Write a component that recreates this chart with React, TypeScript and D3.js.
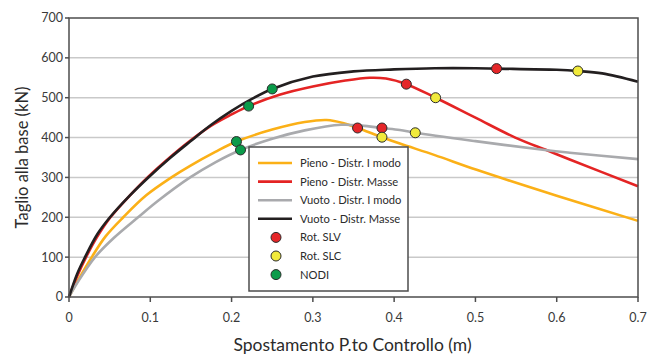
import React from "react";
import * as d3 from "d3";

// displacement (m) / base shear (kN)
const pienoModo = [
  [0, 0], [0.01, 38], [0.028, 100], [0.045, 152], [0.0668, 200], [0.095, 255],
  [0.126, 300], [0.149, 329], [0.18, 364], [0.206, 390], [0.25, 420], [0.29, 439],
  [0.317, 444], [0.338, 436], [0.355, 424], [0.385, 401], [0.407, 385], [0.45, 356],
  [0.5015, 319], [0.6, 254], [0.7, 191],
];
const pienoMasse = [
  [0, 0], [0.01, 52], [0.021, 100], [0.035, 152], [0.051, 200], [0.075, 255],
  [0.0976, 302], [0.125, 352], [0.149, 392], [0.175, 430], [0.2, 458], [0.221, 479],
  [0.26, 508], [0.3, 528], [0.34, 543], [0.37, 550], [0.39, 548], [0.415, 534],
  [0.451, 500], [0.5, 450], [0.549, 400], [0.588, 368], [0.616, 345], [0.7, 278],
];
const vuotoModo = [
  [0, 0], [0.01, 35], [0.032, 100], [0.055, 148], [0.085, 200], [0.11, 242],
  [0.149, 300], [0.18, 338], [0.211, 369], [0.25, 397], [0.29, 418], [0.335, 432],
  [0.36, 430], [0.385, 424], [0.407, 419], [0.426, 412], [0.5, 391], [0.588, 368],
  [0.616, 362], [0.7, 346],
];
const vuotoMasse = [
  [0, 0], [0.01, 58], [0.0197, 100], [0.035, 158], [0.0504, 200], [0.075, 255],
  [0.0976, 300], [0.125, 350], [0.149, 390], [0.175, 432], [0.2, 467], [0.225, 497],
  [0.25, 522], [0.3, 553], [0.35, 566], [0.4, 571], [0.45, 574], [0.5, 574],
  [0.526, 573], [0.6, 570], [0.626, 567], [0.656, 561], [0.7, 540],
];

const rotSLV = [[0.355, 424], [0.415, 534], [0.385, 424], [0.526, 573]];
const rotSLC = [[0.385, 401], [0.451, 500], [0.426, 412], [0.626, 567]];
const nodi = [[0.206, 390], [0.221, 479], [0.211, 369], [0.25, 522]];

const xTicks = [0, 0.1, 0.2, 0.3, 0.4, 0.5, 0.6, 0.7];
const yTicks = [0, 100, 200, 300, 400, 500, 600, 700];

const series = [
  { name: "Pieno - Distr. I modo", data: pienoModo, color: "#fbb017" },
  { name: "Pieno - Distr. Masse", data: pienoMasse, color: "#e42424" },
  { name: "Vuoto . Distr. I modo", data: vuotoModo, color: "#a9aaad" },
  { name: "Vuoto - Distr. Masse", data: vuotoMasse, color: "#231f20" },
];
const markers = [
  { name: "Rot. SLV", data: rotSLV, color: "#e52629" },
  { name: "Rot. SLC", data: rotSLC, color: "#f1ea3b" },
  { name: "NODI", data: nodi, color: "#0b9b4a" },
];

const font = "Lato, 'Noto Sans', sans-serif";

export default function App() {
  const width = 659;
  const height = 354;
  const m = { left: 69, right: 21, top: 18, bottom: 57 };

  const x = d3.scaleLinear().domain([0, 0.7]).range([m.left, width - m.right]);
  const y = d3.scaleLinear().domain([0, 700]).range([height - m.bottom, m.top]);
  const line = d3
    .line<number[]>()
    .x((d) => x(d[0]))
    .y((d) => y(d[1]))
    .curve(d3.curveCatmullRom.alpha(0.5));

  const lg = { x: 249, y: 147, w: 159, h: 144, row: 18.6 };

  return (
    <svg
      width={width}
      height={height}
      style={{ position: "absolute", left: 0, top: 0, background: "#fff" }}
    >
      {yTicks.slice(1, -1).map((t) => (
        <line key={t} x1={x(0)} x2={x(0.7)} y1={y(t)} y2={y(t)} stroke="#c9c9c9" strokeWidth={1.5} />
      ))}

      {series.map((s) => (
        <path key={s.name} d={line(s.data) || ""} fill="none" stroke={s.color} strokeWidth={2.6} />
      ))}

      {markers.map((mk) =>
        mk.data.map((d, i) => (
          <circle key={mk.name + i} cx={x(d[0])} cy={y(d[1])} r={5} fill={mk.color} stroke="#2b2b2b" strokeWidth={1} />
        ))
      )}

      {/* frame */}
      <rect x={x(0)} y={y(700)} width={x(0.7) - x(0)} height={y(0) - y(700)} fill="none" stroke="#4d4d4d" strokeWidth={1.5} />

      {yTicks.map((t) => (
        <g key={t}>
          <line x1={x(0) - 4} x2={x(0)} y1={y(t)} y2={y(t)} stroke="#4d4d4d" strokeWidth={1.5} />
          <text x={x(0) - 6} y={y(t)} dy="0.35em" textAnchor="end" fontSize={12.5} fill="#3a3a3a" fontFamily={font}>
            {t}
          </text>
        </g>
      ))}
      {xTicks.map((t) => (
        <g key={t}>
          <line x1={x(t)} x2={x(t)} y1={y(0)} y2={y(0) + 5} stroke="#4d4d4d" strokeWidth={1.5} />
          <text x={x(t)} y={y(0) + 21} dy="0.35em" textAnchor="middle" fontSize={12.5} fill="#3a3a3a" fontFamily={font}>
            {t}
          </text>
        </g>
      ))}

      <text x={(x(0) + x(0.7)) / 2 - 1} y={345} dy="0.35em" textAnchor="middle" fontSize={17.5} fill="#2b2b2b" fontFamily={font}>
        Spostamento P.to Controllo (m)
      </text>
      <text
        transform={`translate(22,${(y(0) + y(700)) / 2}) rotate(-90)`}
        dy="0.35em"
        textAnchor="middle"
        fontSize={16.5}
        fill="#2b2b2b"
        fontFamily={font}
      >
        Taglio alla base (kN)
      </text>

      {/* legend */}
      <rect x={lg.x} y={lg.y} width={lg.w} height={lg.h} fill="#fff" stroke="#4d4d4d" strokeWidth={1.5} />
      {series.map((s, i) => {
        const cy = lg.y + 16 + i * lg.row;
        return (
          <g key={s.name}>
            <line x1={lg.x + 9} x2={lg.x + 43} y1={cy} y2={cy} stroke={s.color} strokeWidth={2.6} />
            <text x={lg.x + 51} y={cy} dy="0.35em" fontSize={11.2} fill="#2b2b2b" fontFamily={font}>
              {s.name}
            </text>
          </g>
        );
      })}
      {markers.map((mk, i) => {
        const cy = lg.y + 16 + (i + 4) * lg.row;
        return (
          <g key={mk.name}>
            <circle cx={lg.x + 27} cy={cy} r={5} fill={mk.color} stroke="#2b2b2b" strokeWidth={1} />
            <text x={lg.x + 51} y={cy} dy="0.35em" fontSize={11.2} fill="#2b2b2b" fontFamily={font}>
              {mk.name}
            </text>
          </g>
        );
      })}
    </svg>
  );
}
